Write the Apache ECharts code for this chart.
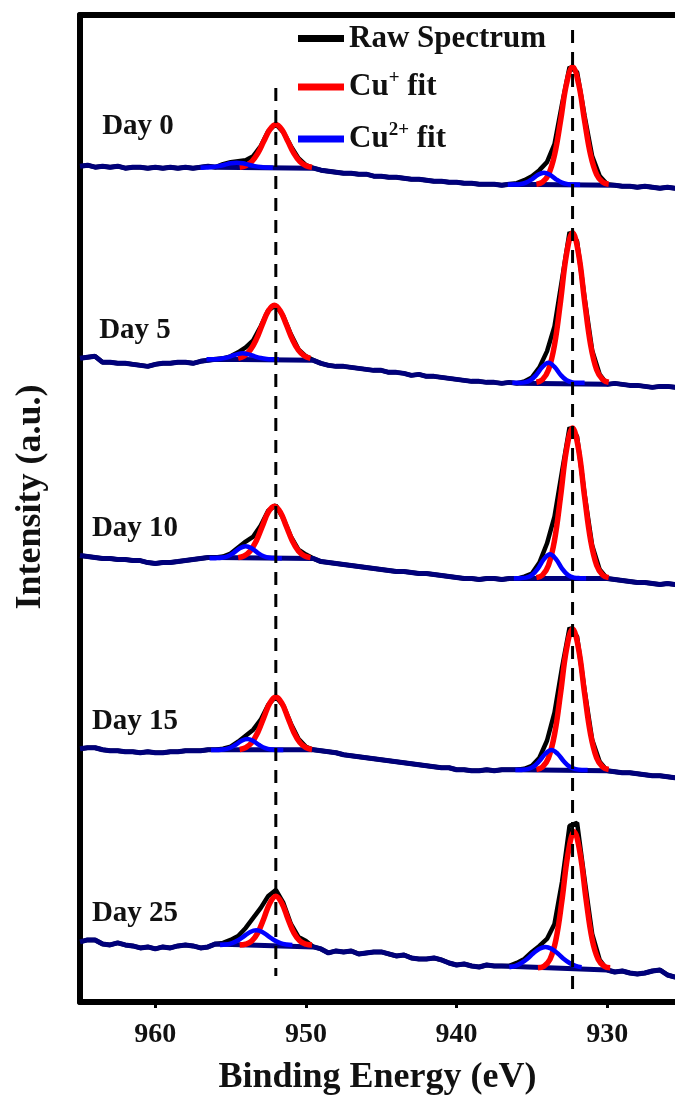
<!DOCTYPE html>
<html>
<head>
<meta charset="utf-8">
<script src="https://cdn.jsdelivr.net/npm/echarts@6/dist/echarts.min.js"></script>
<style>
  html, body { margin: 0; padding: 0; background: #fff; }
  #chart { width: 675px; height: 1095px; }
</style>
</head>
<body>
<div id="chart"></div>
<script>
// Cu 2p XPS spectra, stacked by storage time
const days = ['Day 0', 'Day 5', 'Day 10', 'Day 15', 'Day 25'];
const stackOffset = [835, 643, 446, 253, 60];

// binding-energy grid of the recorded spectra, 965 -> 925 eV in 0.5 eV steps
const energy = Array.from({ length: 81 }, (_, i) => 965 - 0.5 * i);

// recorded intensities (a.u.), relative to each spectrum's own start level
const rawDay0 = [0, 1, -1, 0, -1, 0, -2, -1, -1, -2,
  -1, -2, -1, -2, -1, -2, -1, 0, -1, 2,
  4, 5, 6, 10, 20, 35, 42, 34, 20, 8,
  1, -2, -4, -5, -6, -7, -7, -8, -8, -10,
  -10, -11, -11, -12, -13, -13, -14, -15, -15, -16,
  -16, -17, -17, -18, -18, -18, -19, -18, -17, -14,
  -10, -4, 4, 22, 62, 99, 94, 50, 10, -10,
  -18, -19, -20, -20, -21, -20, -21, -22, -21, -22, -22];
const rawDay5 = [0, 1, 2, -4, -4, -5, -5, -6, -7, -8,
  -6, -5, -5, -4, -4, -5, -3, -2, -1, 0,
  2, 6, 11, 18, 32, 48, 53, 42, 24, 9,
  2, -2, -5, -7, -8, -8, -9, -10, -11, -12,
  -12, -14, -14, -15, -17, -16, -18, -18, -19, -20,
  -21, -22, -23, -23, -24, -24, -25, -24, -25, -23,
  -19, -9, 7, 32, 79, 126, 117, 60, 8, -16,
  -26, -25, -26, -27, -27, -28, -29, -28, -28, -29, -28];
const rawDay10 = [0, -1, -2, -3, -3, -4, -4, -5, -5, -7,
  -8, -7, -7, -6, -5, -4, -3, -2, -2, -1,
  2, 8, 14, 19, 30, 45, 50, 37, 19, 6,
  1, -3, -6, -7, -8, -9, -10, -11, -12, -13,
  -14, -15, -16, -16, -17, -18, -18, -19, -20, -21,
  -22, -23, -23, -24, -23, -23, -24, -23, -23, -21,
  -18, -7, 12, 39, 84, 128, 119, 61, 10, -14,
  -23, -24, -25, -26, -27, -27, -28, -29, -28, -29, -28];
const rawDay15 = [0, 1, 1, -1, -2, -2, -3, -3, -4, -3,
  -4, -4, -3, -3, -2, -2, -2, -1, -1, 0,
  2, 7, 13, 19, 29, 44, 52, 43, 25, 10,
  2, -1, -2, -3, -4, -6, -7, -8, -9, -10,
  -11, -12, -13, -14, -15, -16, -17, -18, -19, -19,
  -21, -21, -22, -22, -21, -22, -21, -21, -21, -20,
  -17, -9, 8, 36, 81, 121, 112, 58, 9, -13,
  -22, -23, -24, -24, -25, -26, -27, -27, -28, -29, -29];
const rawDay25 = [0, 2, 2, -2, -3, -1, -3, -4, -6, -5,
  -7, -5, -6, -4, -3, -4, -6, -5, -2, -1,
  2, 6, 14, 24, 34, 46, 52, 39, 18, 5,
  1, -5, -7, -11, -9, -10, -9, -12, -11, -10,
  -10, -12, -14, -13, -16, -17, -17, -16, -18, -21,
  -23, -22, -24, -25, -23, -24, -24, -24, -21, -17,
  -10, -4, 3, 18, 60, 116, 119, 62, 8, -18,
  -28, -30, -29, -31, -32, -31, -29, -28, -33, -35, -34];
const rawSpectra = [rawDay0, rawDay5, rawDay10, rawDay15, rawDay25];

// fitting ranges (eV) of the 2p1/2 and 2p3/2 regions and their baseline levels
const windowHi = [[950, 955.5], [950, 955.5], [950, 955.5], [950, 955.5], [950, 955.5]];
const windowLo = [[930, 936], [930.5, 935.5], [930.5, 935.5], [930.5, 935.5], [930.5, 936.5]];
const baseHi = [-1.5, -1, -2.7, -1.3, -3.3];
const baseLo = [-18.5, -24.5, -22.7, -21.3, -26];

// fitted component centres (eV)
const cuIcenterHi = [952.0, 952.1, 952.1, 952.0, 952.0];
const cuIIcenterHi = [954.6, 954.2, 954.0, 953.9, 953.3];
const cuIcenterLo = [932.3, 932.3, 932.3, 932.3, 932.2];
const cuIIcenterLo = [934.2, 933.9, 933.8, 933.7, 934.1];

// fitted component profiles above the baseline, sampled at centre + fitOffsets
const fitOffsets = [-2.4, -2, -1.6, -1.2, -0.8, -0.4, 0, 0.4, 0.8, 1.2, 1.6, 2, 2.4];
const cuIHi = [
  [0.5, 2, 6, 14.2, 26.3, 38, 43, 38, 26.3, 14.2, 6, 2, 0.5],
  [1, 3.4, 9.2, 19.9, 34.7, 48.3, 54, 48.3, 34.7, 19.9, 9.2, 3.4, 1],
  [0.6, 2.4, 7.3, 17.2, 31.8, 46, 52, 46, 31.8, 17.2, 7.3, 2.4, 0.6],
  [0.6, 2.4, 7.4, 17.5, 32.4, 46.9, 53, 46.9, 32.4, 17.5, 7.4, 2.4, 0.6],
  [0.2, 1.1, 4.2, 12.3, 26.5, 42, 49, 42, 26.5, 12.3, 4.2, 1.1, 0.2]
];
const cuIIHi = [
  [0, 0.2, 0.6, 1.5, 2.9, 4.4, 5, 4.4, 2.9, 1.5, 0.6, 0.2, 0],
  [0, 0.1, 0.4, 1.3, 3, 5, 6, 5, 3, 1.3, 0.4, 0.1, 0],
  [0, 0.1, 0.5, 2, 5.4, 9.9, 12, 9.9, 5.4, 2, 0.5, 0.1, 0],
  [0, 0.1, 0.5, 1.9, 5, 9, 11, 9, 5, 1.9, 0.5, 0.1, 0],
  [0.2, 0.7, 2.1, 5, 9.2, 13.3, 15, 13.3, 9.2, 5, 2.1, 0.7, 0.2]
];
const cuILo = [
  [0.5, 2.5, 10.1, 29.5, 63.6, 100.8, 117.5, 100.8, 63.6, 29.5, 10.1, 2.5, 0.5],
  [0.6, 3.2, 12.9, 37.7, 81.2, 128.7, 150, 128.7, 81.2, 37.7, 12.9, 3.2, 0.6],
  [0.6, 3.2, 12.9, 37.7, 81.2, 128.7, 150, 128.7, 81.2, 37.7, 12.9, 3.2, 0.6],
  [0.6, 3, 12.1, 35.4, 76.3, 121, 141, 121, 76.3, 35.4, 12.1, 3, 0.6],
  [0.3, 1.8, 8.6, 28.6, 68, 114.4, 136, 114.4, 68, 28.6, 8.6, 1.8, 0.3]
];
const cuIILo = [
  [0, 0.1, 0.5, 2, 5.4, 9.9, 12, 9.9, 5.4, 2, 0.5, 0.1, 0],
  [0, 0.1, 0.5, 2.6, 8.1, 15.9, 20, 15.9, 8.1, 2.6, 0.5, 0.1, 0],
  [0, 0.1, 0.6, 3.1, 9.7, 19.1, 24, 19.1, 9.7, 3.1, 0.6, 0.1, 0],
  [0, 0.1, 0.9, 3.4, 9.1, 16.4, 20, 16.4, 9.1, 3.4, 0.9, 0.1, 0],
  [0.8, 2.1, 4.9, 9.2, 14.6, 19.2, 21, 19.2, 14.6, 9.2, 4.9, 2.1, 0.8]
];

// Cu+ 2p1/2 and 2p3/2 reference positions (eV)
const refBE = [952.0, 932.3];
const xTicks = [960, 950, 940, 930];

const FONT = '"Liberation Serif", "Times New Roman", serif';
const RAW_NAME = 'Raw Spectrum';
const CU1_NAME = 'Cu+ fit';
const CU2_NAME = 'Cu2+ fit';

const series = [];

function fitSeries(name, color, width, z, center, heights, level) {
  return {
    name, type: 'line', color, z,
    smooth: 0.4, symbol: 'none', silent: true,
    lineStyle: { color, width },
    data: fitOffsets.map((o, k) => [center + o, level + heights[k]])
  };
}

days.forEach((day, d) => {
  const off = stackOffset[d];
  const raw = rawSpectra[d];
  series.push({
    name: RAW_NAME, type: 'line', color: '#000', z: 2,
    symbol: 'none', silent: true,
    lineStyle: { color: '#000', width: 4.5 },
    data: energy.map((e, i) => [e, off + raw[i]])
  });
  // background: the recorded trace outside the fitting ranges, straight across them
  const inWin = (e) => (e >= windowHi[d][0] && e <= windowHi[d][1]) ||
                       (e >= windowLo[d][0] && e <= windowLo[d][1]);
  series.push({
    name: 'Background', type: 'line', color: '#00007a', z: 3,
    symbol: 'none', silent: true,
    lineStyle: { color: '#00007a', width: 5 },
    data: energy.map((e, i) => [e, off + raw[i]]).filter(p => !inWin(p[0]))
  });
  series.push(fitSeries(CU1_NAME, '#ff0000', 5.5, 4, cuIcenterHi[d], cuIHi[d], off + baseHi[d]));
  series.push(fitSeries(CU1_NAME, '#ff0000', 5.5, 4, cuIcenterLo[d], cuILo[d], off + baseLo[d]));
  series.push(fitSeries(CU2_NAME, '#0000ff', 4.5, 5, cuIIcenterHi[d], cuIIHi[d], off + baseHi[d]));
  series.push(fitSeries(CU2_NAME, '#0000ff', 4.5, 5, cuIIcenterLo[d], cuIILo[d], off + baseLo[d]));
});

// dashed guides through the Cu+ peak positions
const guideSpan = [[26, 913], [11, 971]];
refBE.forEach((be, k) => {
  series.push({
    name: 'guide', type: 'line', z: 10, symbol: 'none', silent: true,
    color: '#000',
    lineStyle: { color: '#000', width: 3, type: [13, 9] },
    data: [[be, guideSpan[k][1]], [be, guideSpan[k][0]]]
  });
});

const labelX = [138, 135, 135, 135, 135];
const labelY = [127, 331, 529, 722, 914];
const graphic = days.map((day, d) => ({
  type: 'text', x: labelX[d], y: labelY[d],
  style: {
    text: day, fill: '#111', font: 'bold 29px ' + FONT,
    textAlign: 'center', textVerticalAlign: 'middle'
  }
}));
graphic.push({
  type: 'text', x: 31, y: 497, rotation: Math.PI / 2,
  style: {
    text: 'Intensity (a.u.)', fill: '#111', font: 'bold 36px ' + FONT,
    textAlign: 'center', textVerticalAlign: 'middle'
  }
});

// one legend block per entry, stacked inside the plot
const legendRich = {
  m: { fontFamily: FONT, fontWeight: 'bold', fontSize: 31, color: '#111', lineHeight: 36 },
  s: { fontFamily: FONT, fontWeight: 'bold', fontSize: 19, color: '#111', verticalAlign: 'top', lineHeight: 22 }
};
const legendNames = [RAW_NAME, CU1_NAME, CU2_NAME];
const legendTop = [23, 69, 121];
const legend = legendNames.map((nm, k) => ({
  data: [nm], orient: 'vertical', left: 298, top: legendTop[k], padding: 0,
  icon: 'rect', itemWidth: 46, itemHeight: 7, selectedMode: false,
  textStyle: { fontFamily: FONT, fontWeight: 'bold', fontSize: 31, color: '#111', rich: legendRich },
  formatter: (name) => {
    if (name === CU1_NAME) return '{m|Cu}{s|+}{m| fit}';
    if (name === CU2_NAME) return '{m|Cu}{s|2+}{m| fit}';
    return '{m|' + name + '}';
  }
}));

const frame = { show: true, onZero: false, lineStyle: { color: '#000', width: 6 } };

const chart = echarts.init(document.getElementById('chart'), null, { renderer: 'canvas' });
chart.setOption({
  animation: false,
  backgroundColor: '#fff',
  grid: { left: 80, top: 15, right: 0, bottom: 93, show: false, outerBoundsMode: 'none', containLabel: false },
  legend,
  xAxis: [{
    type: 'value', inverse: true, min: 925.5, max: 965, position: 'bottom',
    name: 'Binding Energy (eV)', nameLocation: 'middle', nameGap: 58,
    nameTextStyle: { fontFamily: FONT, fontWeight: 'bold', fontSize: 36, color: '#111' },
    axisLine: frame,
    splitLine: { show: false },
    axisTick: { show: true, inside: false, length: 6, customValues: xTicks, lineStyle: { color: '#000', width: 3 } },
    axisLabel: { customValues: xTicks, margin: 19, fontFamily: FONT, fontWeight: 'bold', fontSize: 28, color: '#111' }
  }, {
    type: 'value', inverse: true, min: 925.5, max: 965, position: 'top',
    axisLine: frame, axisTick: { show: false }, axisLabel: { show: false }, splitLine: { show: false }
  }],
  yAxis: {
    type: 'value', min: 0, max: 986, position: 'left',
    axisLine: frame, axisTick: { show: false }, axisLabel: { show: false }, splitLine: { show: false }
  },
  graphic,
  series
});
</script>
</body>
</html>
